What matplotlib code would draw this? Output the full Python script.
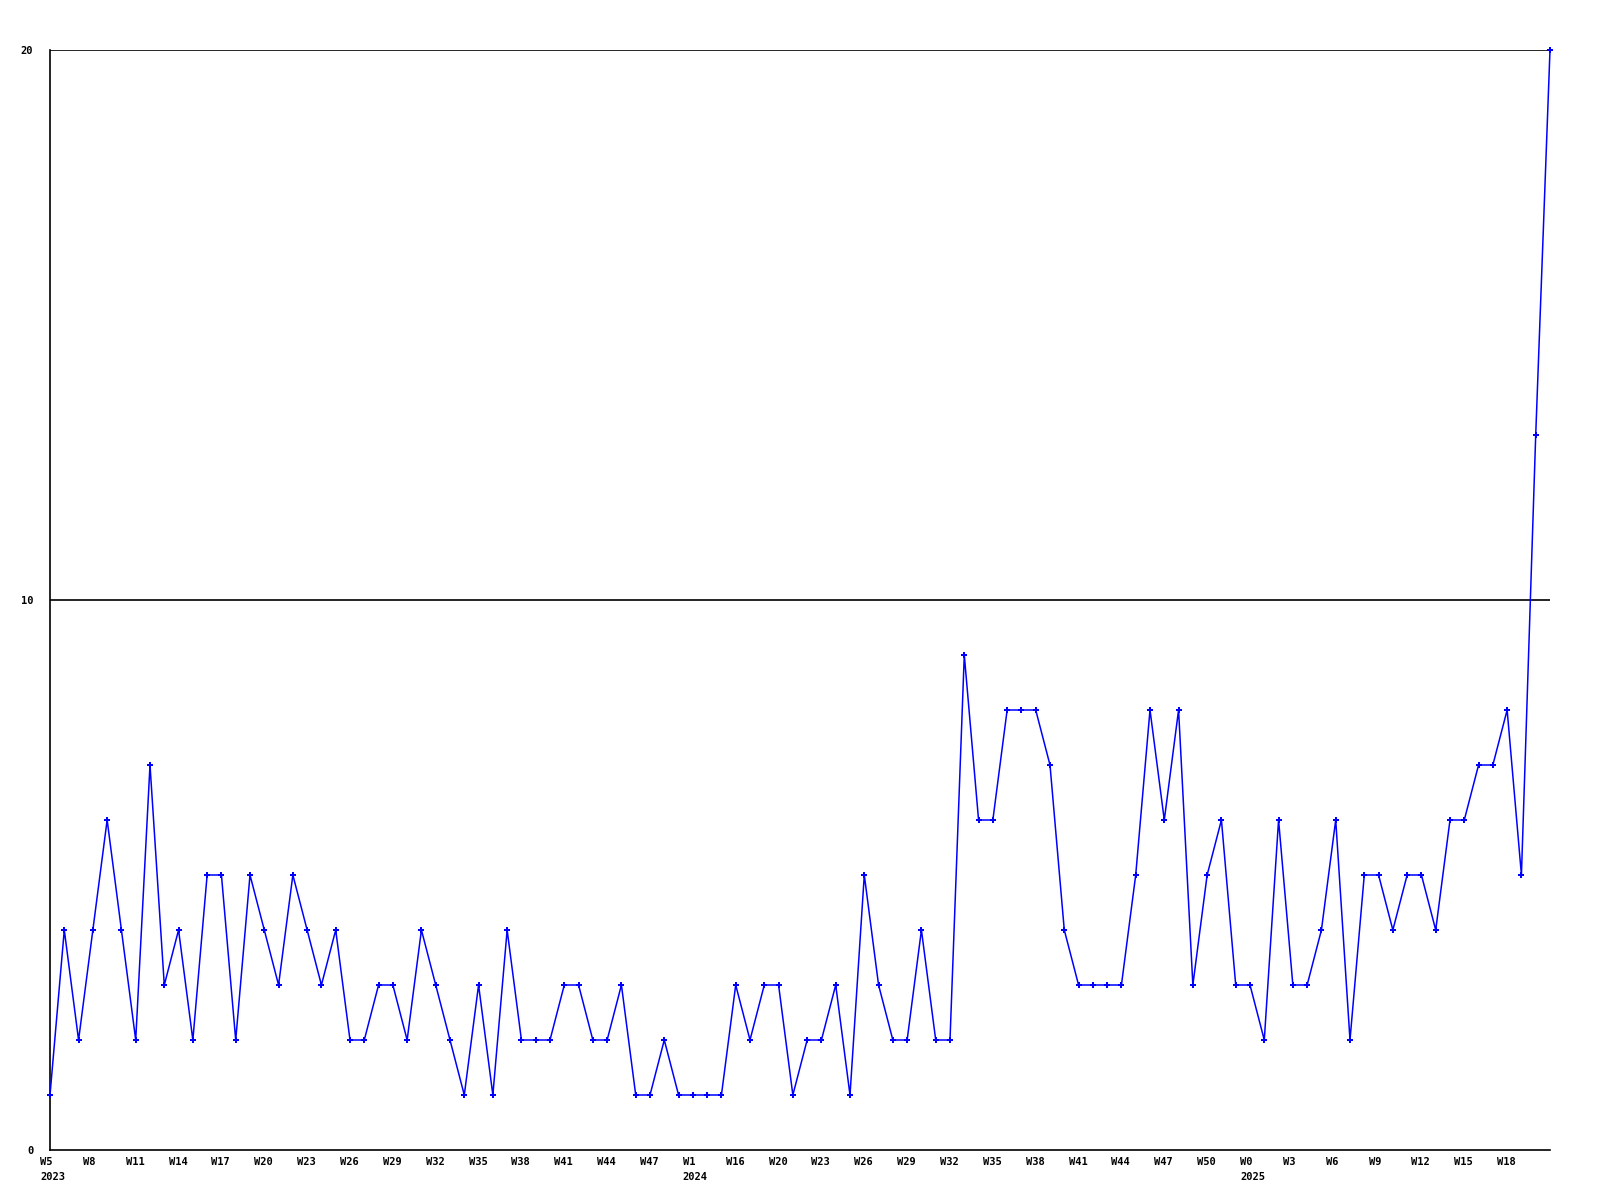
import matplotlib
matplotlib.use("Agg")
import matplotlib.pyplot as plt
import matplotlib.transforms as mtransforms

# weekly counts
values = [1, 4, 2, 4, 6, 4, 2, 7, 3, 4,
          2, 5, 5, 2, 5, 4, 3, 5, 4, 3,
          4, 2, 2, 3, 3, 2, 4, 3, 2, 1,
          3, 1, 4, 2, 2, 2, 3, 3, 2, 2,
          3, 1, 1, 2, 1, 1, 1, 1, 3, 2,
          3, 3, 1, 2, 2, 3, 1, 5, 3, 2,
          2, 4, 2, 2, 9, 6, 6, 8, 8, 8,
          7, 4, 3, 3, 3, 3, 5, 8, 6, 8,
          3, 5, 6, 3, 3, 2, 6, 3, 3, 4,
          6, 2, 5, 5, 4, 5, 5, 4, 6, 6,
          7, 7, 8, 5, 13, 20]

# every third point carries a week label
week_labels = ["W5", "W8", "W11", "W14", "W17", "W20", "W23", "W26", "W29",
               "W32", "W35", "W38", "W41", "W44", "W47", "W1", "W16", "W20",
               "W23", "W26", "W29", "W32", "W35", "W38", "W41", "W44", "W47",
               "W50", "W0", "W3", "W6", "W9", "W12", "W15", "W18"]
year_labels = {0: "2023", 45: "2024", 84: "2025"}
y_ticks = [0, 10, 20]

fig = plt.figure(figsize=(16, 12), dpi=100)
ax = fig.add_axes([50 / 1600, 50 / 1200, 1500 / 1600, 1100 / 1200])

x = list(range(len(values)))
ax.plot(x, values, color="#0000ff", linewidth=1.1, marker="P",
        markersize=4.5, markeredgewidth=0, clip_on=False, zorder=3)

ax.set_xlim(0, len(values) - 1)
ax.set_ylim(0, 20)

for yv in y_ticks[1:]:
    ax.axhline(yv, color="black", linewidth=1.2, zorder=0)

for s in ["right", "top"]:
    ax.spines[s].set_visible(False)
for s in ["left", "bottom"]:
    ax.spines[s].set_linewidth(1.2)

font = dict(family="DejaVu Sans Mono", weight="bold", size=7.5)

ax.set_yticks(y_ticks)
ax.set_yticklabels([str(v) for v in y_ticks], **font)
ax.tick_params(axis="y", length=0, pad=12)
ax.set_xticks([])

lbl_tr = mtransforms.offset_copy(ax.get_xaxis_transform(), fig=fig,
                                 x=-10, y=-12, units="dots")
yr_tr = mtransforms.offset_copy(ax.get_xaxis_transform(), fig=fig,
                                x=-10, y=-27, units="dots")
for i, lab in enumerate(week_labels):
    ax.text(i * 3, 0, lab, transform=lbl_tr, ha="left", va="center",
            clip_on=False, **font)
for i, lab in year_labels.items():
    ax.text(i, 0, lab, transform=yr_tr, ha="left", va="center",
            clip_on=False, **font)

fig.savefig("out.png", dpi=100)
